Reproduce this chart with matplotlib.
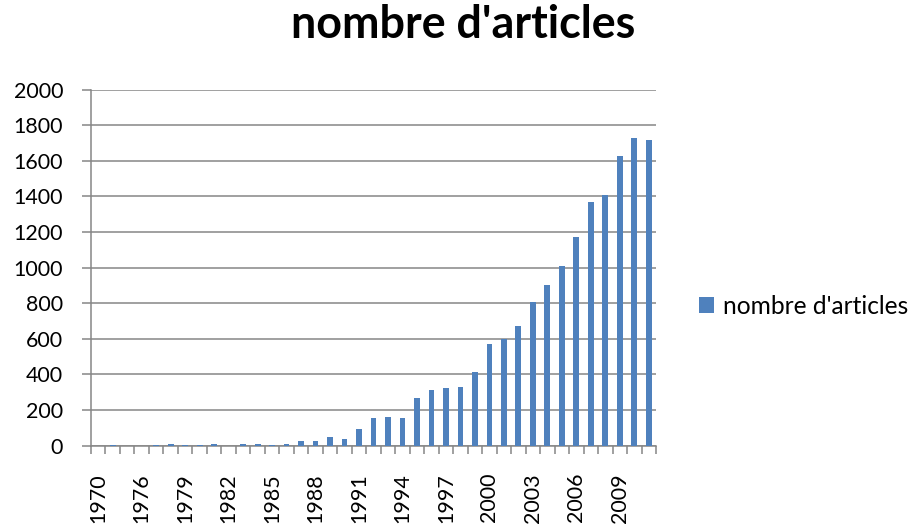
import matplotlib
matplotlib.use('Agg')
import matplotlib.pyplot as plt
import numpy as np
from matplotlib.patches import Patch

# ---- data ----
years = [1970, 1974, 1975] + list(range(1976, 2012))
counts = [0, 3, 0, 0, 5, 6, 5, 4, 6, 0, 7, 11, 5, 11, 26, 24, 49, 37, 92,
          155, 159, 157, 269, 314, 325, 329, 415, 569, 600, 671, 806, 901,
          1007, 1174, 1368, 1406, 1624, 1730, 1715]
series_name = "nombre d'articles"
title_text = "nombre d'articles"
ytick_values = list(range(0, 2001, 200))
label_step = 3

FONT = ['Lato', 'DejaVu Sans']
plt.rcParams['font.family'] = FONT
BAR = '#4F81BD'
GRID = '#868686'
PX = 72 / 100.0  # points per pixel

fig = plt.figure(figsize=(9.13, 5.24), dpi=100)
W, H = 913, 524
renderer = fig.canvas.get_renderer()


def fit_size(s, target_px, weight='normal', base=14):
    t = fig.text(0, 0, s, fontsize=base, weight=weight)
    w = t.get_window_extent(renderer).width
    t.remove()
    return base * target_px / w


tick_fs = fit_size('2000', 50)
leg_fs = fit_size(series_name, 186)
title_fs = fit_size(title_text, 347, weight='bold')

left, right, top, bottom = 91, 656, 89.5, 445.5
ax = fig.add_axes([left / W, 1 - bottom / H, (right - left) / W, (bottom - top) / H])

x = np.arange(len(years))
ax.bar(x, counts, width=0.4, color=BAR, zorder=3)
ax.set_xlim(-0.5, len(years) - 0.5)
ax.set_ylim(0, 2000)
ax.set_yticks(ytick_values)
ax.set_yticklabels([str(v) for v in ytick_values], fontsize=tick_fs)
ax.yaxis.grid(True, color=GRID, linewidth=1.1)
ax.set_axisbelow(True)

for s in ['top', 'right']:
    ax.spines[s].set_visible(False)
for s in ['left', 'bottom']:
    ax.spines[s].set_color(GRID)
    ax.spines[s].set_linewidth(1.1)

ax.set_xticks(np.arange(len(years) + 1) - 0.5)
ax.set_xticklabels([])
ax.set_xticks(x[::label_step], minor=True)
ax.set_xticklabels([str(y) for y in years[::label_step]], minor=True,
                   rotation=90, fontsize=tick_fs)
ax.tick_params(axis='x', which='major', length=8 * PX, width=1.1, color=GRID,
               labelbottom=False)
ax.tick_params(axis='x', which='minor', length=0, pad=27.5 * PX)
ax.tick_params(axis='y', length=9 * PX, width=1.1, color=GRID, pad=19 * PX)

fig.text(463 / W, 1 - 38.3 / H, title_text, ha='center', va='baseline',
         fontsize=title_fs, weight='bold')

hsize = 15 / (leg_fs / PX)
fig.legend(handles=[Patch(facecolor=BAR, edgecolor='none', label=series_name)],
           loc='center left', bbox_to_anchor=(699 / W, 1 - 306.5 / H),
           frameon=False, borderpad=0, borderaxespad=0,
           handlelength=hsize, handleheight=hsize,
           handletextpad=9 / (leg_fs / PX), fontsize=leg_fs)

fig.savefig('out.png', dpi=100)
